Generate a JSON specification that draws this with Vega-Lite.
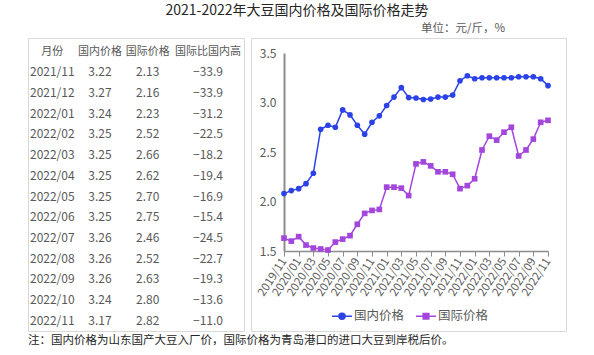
{
  "$schema": "https://vega.github.io/schema/vega-lite/v6.json",
  "padding": {"left": 27, "top": 4, "right": 0, "bottom": 0},
  "bounds": "flush",
  "spacing": 7,
  "title": {"text": "2021-2022年大豆国内价格及国际价格走势", "fontSize": 14, "fontWeight": "normal", "color": "#262626", "anchor": "middle", "offset": 4},
  "datasets": {
    "trend": [
      {"month": "2019/11", "国内价格": 2.08, "国际价格": 1.63},
      {"month": "2019/12", "国内价格": 2.11, "国际价格": 1.60},
      {"month": "2020/01", "国内价格": 2.13, "国际价格": 1.645},
      {"month": "2020/02", "国内价格": 2.18, "国际价格": 1.56},
      {"month": "2020/03", "国内价格": 2.285, "国际价格": 1.53},
      {"month": "2020/04", "国内价格": 2.73, "国际价格": 1.52},
      {"month": "2020/05", "国内价格": 2.77, "国际价格": 1.51},
      {"month": "2020/06", "国内价格": 2.75, "国际价格": 1.59},
      {"month": "2020/07", "国内价格": 2.925, "国际价格": 1.62},
      {"month": "2020/08", "国内价格": 2.875, "国际价格": 1.655},
      {"month": "2020/09", "国内价格": 2.77, "国际价格": 1.77},
      {"month": "2020/10", "国内价格": 2.68, "国际价格": 1.88},
      {"month": "2020/11", "国内价格": 2.80, "国际价格": 1.91},
      {"month": "2020/12", "国内价格": 2.865, "国际价格": 1.92},
      {"month": "2021/01", "国内价格": 2.97, "国际价格": 2.145},
      {"month": "2021/02", "国内价格": 3.055, "国际价格": 2.145},
      {"month": "2021/03", "国内价格": 3.15, "国际价格": 2.135},
      {"month": "2021/04", "国内价格": 3.05, "国际价格": 2.06},
      {"month": "2021/05", "国内价格": 3.045, "国际价格": 2.38},
      {"month": "2021/06", "国内价格": 3.03, "国际价格": 2.40},
      {"month": "2021/07", "国内价格": 3.035, "国际价格": 2.36},
      {"month": "2021/08", "国内价格": 3.055, "国际价格": 2.30},
      {"month": "2021/09", "国内价格": 3.055, "国际价格": 2.30},
      {"month": "2021/10", "国内价格": 3.075, "国际价格": 2.275},
      {"month": "2021/11", "国内价格": 3.22, "国际价格": 2.13},
      {"month": "2021/12", "国内价格": 3.27, "国际价格": 2.16},
      {"month": "2022/01", "国内价格": 3.24, "国际价格": 2.23},
      {"month": "2022/02", "国内价格": 3.25, "国际价格": 2.52},
      {"month": "2022/03", "国内价格": 3.25, "国际价格": 2.66},
      {"month": "2022/04", "国内价格": 3.25, "国际价格": 2.62},
      {"month": "2022/05", "国内价格": 3.25, "国际价格": 2.70},
      {"month": "2022/06", "国内价格": 3.25, "国际价格": 2.75},
      {"month": "2022/07", "国内价格": 3.26, "国际价格": 2.46},
      {"month": "2022/08", "国内价格": 3.26, "国际价格": 2.52},
      {"month": "2022/09", "国内价格": 3.26, "国际价格": 2.63},
      {"month": "2022/10", "国内价格": 3.24, "国际价格": 2.80},
      {"month": "2022/11", "国内价格": 3.17, "国际价格": 2.82}
    ],
    "table": [
      {"month": "2021/11", "dom": 3.22, "intl": 2.13, "diff": -33.9},
      {"month": "2021/12", "dom": 3.27, "intl": 2.16, "diff": -33.9},
      {"month": "2022/01", "dom": 3.24, "intl": 2.23, "diff": -31.2},
      {"month": "2022/02", "dom": 3.25, "intl": 2.52, "diff": -22.5},
      {"month": "2022/03", "dom": 3.25, "intl": 2.66, "diff": -18.2},
      {"month": "2022/04", "dom": 3.25, "intl": 2.62, "diff": -19.4},
      {"month": "2022/05", "dom": 3.25, "intl": 2.70, "diff": -16.9},
      {"month": "2022/06", "dom": 3.25, "intl": 2.75, "diff": -15.4},
      {"month": "2022/07", "dom": 3.26, "intl": 2.46, "diff": -24.5},
      {"month": "2022/08", "dom": 3.26, "intl": 2.52, "diff": -22.7},
      {"month": "2022/09", "dom": 3.26, "intl": 2.63, "diff": -19.3},
      {"month": "2022/10", "dom": 3.24, "intl": 2.80, "diff": -13.6},
      {"month": "2022/11", "dom": 3.17, "intl": 2.82, "diff": -11.0}
    ]
  },
  "hconcat": [
    {
      "width": 216,
      "height": 293,
      "title": {"text": "注：国内价格为山东国产大豆入厂价，国际价格为青岛港口的进口大豆到岸税后价。", "orient": "bottom", "anchor": "start", "fontSize": 11.5, "fontWeight": "normal", "color": "#262626", "offset": 4},
      "data": {"name": "table"},
      "encoding": {
        "y": {"type": "nominal", "axis": null, "scale": {"type": "point", "domain": ["月份", "2021/11", "2021/12", "2022/01", "2022/02", "2022/03", "2022/04", "2022/05", "2022/06", "2022/07", "2022/08", "2022/09", "2022/10", "2022/11"], "range": [13.6, 282.7], "padding": 0}}
      },
      "layer": [
        {
          "data": {"values": [{"col": "月份"}, {"col": "国内价格"}, {"col": "国际价格"}]},
          "mark": {"type": "text", "fontSize": 11, "color": "#595959", "baseline": "middle"},
          "encoding": {
            "x": {"field": "col", "type": "nominal", "axis": null, "scale": {"type": "point", "domain": ["月份", "国内价格", "国际价格", "国际比国内高"], "range": [24.3, 167.4], "padding": 0}},
            "y": {"datum": "月份", "type": "nominal"},
            "text": {"field": "col"}
          }
        },
        {
          "data": {"values": [{"col": "国际比国内高"}]},
          "mark": {"type": "text", "fontSize": 11, "color": "#595959", "baseline": "middle", "dx": 12.6},
          "encoding": {
            "x": {"field": "col", "type": "nominal"},
            "y": {"datum": "月份", "type": "nominal"},
            "text": {"field": "col"}
          }
        },
        {
          "mark": {"type": "text", "fontSize": 12, "color": "#595959", "baseline": "middle"},
          "encoding": {
            "x": {"datum": "月份", "type": "nominal"},
            "y": {"field": "month", "type": "nominal"},
            "text": {"field": "month"}
          }
        },
        {
          "mark": {"type": "text", "fontSize": 12, "color": "#595959", "baseline": "middle"},
          "encoding": {
            "x": {"datum": "国内价格", "type": "nominal"},
            "y": {"field": "month", "type": "nominal"},
            "text": {"field": "dom", "type": "quantitative", "format": ".2f"}
          }
        },
        {
          "mark": {"type": "text", "fontSize": 12, "color": "#595959", "baseline": "middle"},
          "encoding": {
            "x": {"datum": "国际价格", "type": "nominal"},
            "y": {"field": "month", "type": "nominal"},
            "text": {"field": "intl", "type": "quantitative", "format": ".2f"}
          }
        },
        {
          "mark": {"type": "text", "fontSize": 12, "color": "#595959", "baseline": "middle", "dx": 12.6},
          "encoding": {
            "x": {"datum": "国际比国内高", "type": "nominal"},
            "y": {"field": "month", "type": "nominal"},
            "text": {"field": "diff", "type": "quantitative", "format": ".1f"}
          }
        }
      ]
    },
    {
      "width": 315,
      "height": 293,
      "title": {"text": "单位：元/斤，%", "anchor": "end", "dx": -61, "fontSize": 11.5, "fontWeight": "normal", "color": "#595959", "offset": 4},
      "data": {"name": "trend"},
      "transform": [{"fold": ["国内价格", "国际价格"], "as": ["series", "price"]}],
      "encoding": {
        "x": {
          "field": "month", "type": "ordinal",
          "scale": {"type": "point", "range": [33, 297], "padding": 0},
          "axis": {
            "orient": "bottom", "offset": -80, "title": null, "grid": false,
            "values": ["2019/11", "2020/01", "2020/03", "2020/05", "2020/07", "2020/09", "2020/11", "2021/01", "2021/03", "2021/05", "2021/07", "2021/09", "2021/11", "2022/01", "2022/03", "2022/05", "2022/07", "2022/09", "2022/11"],
            "labelAngle": -57, "labelAlign": "right", "labelBaseline": "middle", "labelOverlap": false,
            "labelFontSize": 11.5, "labelColor": "#595959", "labelPadding": 3,
            "domainColor": "#8c8c8c", "domainWidth": 1.5, "tickColor": "#8c8c8c", "tickSize": 5, "tickWidth": 1
          }
        },
        "y": {
          "field": "price", "type": "quantitative",
          "scale": {"domain": [1.5, 3.5], "range": [213, 15], "zero": false, "nice": false},
          "axis": {
            "orient": "left", "offset": -33, "title": null, "grid": false, "ticks": false,
            "values": [1.5, 2, 2.5, 3, 3.5], "format": ".1f",
            "labelFontSize": 12, "labelColor": "#595959", "labelPadding": 8,
            "domainColor": "#8c8c8c", "domainWidth": 2
          }
        }
      },
      "resolve": {"legend": {"color": "independent", "shape": "independent"}},
      "layer": [
        {
          "mark": {"type": "line", "strokeWidth": 1.5},
          "encoding": {
            "color": {"field": "series", "type": "nominal", "scale": {"domain": ["国内价格", "国际价格"], "range": ["#2b42e8", "#a347dc"]}, "legend": null}
          }
        },
        {
          "mark": {"type": "point", "filled": true, "opacity": 1, "size": 32},
          "encoding": {
            "color": {"field": "series", "type": "nominal", "legend": null},
            "shape": {"condition": {"test": "datum.series === '国内价格'", "value": "circle"}, "value": "square"}
          }
        },
        {
          "mark": {"type": "point", "filled": true, "opacity": 0, "size": 30},
          "encoding": {
            "color": {
              "field": "series", "type": "nominal",
              "legend": {
                "orient": "none", "legendX": 80, "legendY": 267, "direction": "horizontal", "title": null,
                "symbolSize": 400, "labelFontSize": 12.5, "labelColor": "#595959", "labelOffset": 1,
                "columnPadding": 8, "padding": 0, "symbolOpacity": 1, "symbolStrokeWidth": 1.5,
                "encode": {"symbols": {"update": {
                  "opacity": {"value": 1},
                  "stroke": [{"test": "datum.value === '国内价格'", "value": "#2b42e8"}, {"value": "#a347dc"}],
                  "fill": [{"test": "datum.value === '国内价格'", "value": "#2b42e8"}, {"value": "#a347dc"}],
                  "strokeWidth": {"value": 1.5}
                }}}
              }
            },
            "shape": {
              "field": "series", "type": "nominal",
              "scale": {"domain": ["国内价格", "国际价格"], "range": ["M-1,0H1M0.3,0A0.3,0.3,0,1,1,-0.3,0A0.3,0.3,0,1,1,0.3,0Z", "M-1,0H1M-0.28,-0.28H0.28V0.28H-0.28Z"]},
              "legend": {
                "orient": "none", "legendX": 80, "legendY": 267, "direction": "horizontal", "title": null,
                "symbolSize": 400, "labelFontSize": 12.5, "labelColor": "#595959", "labelOffset": 1,
                "columnPadding": 8, "padding": 0, "symbolOpacity": 1, "symbolStrokeWidth": 1.5
              }
            }
          }
        }
      ]
    }
  ],
  "config": {
    "font": "Noto Sans CJK SC",
    "view": {"stroke": "#d9d9d9", "strokeWidth": 1},
    "background": "white"
  }
}
